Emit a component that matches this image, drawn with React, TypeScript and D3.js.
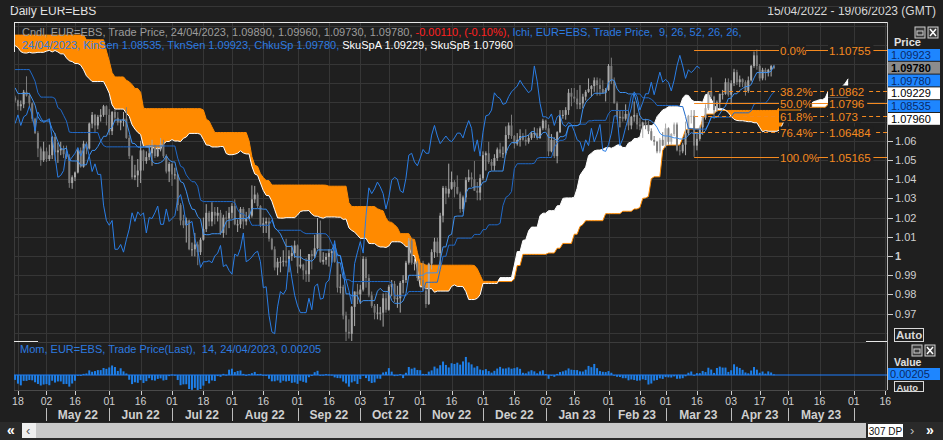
import React from "react";
import * as d3 from "d3";

type Bar = [number, number, number, number]; // open, high, low, close

// ---- daily EUR=EBS OHLC (prehistory from 27/12/2021 feeds the Ichimoku) ----
const dec21: Bar[] = [[1.1320,1.1336,1.1300,1.1327],[1.1327,1.1344,1.1296,1.1310],[1.1310,1.1369,1.1272,1.1350],[1.1350,1.1368,1.1300,1.1322],[1.1322,1.1385,1.1318,1.1370]];
const jan22: Bar[] = [[1.1370,1.1376,1.1280,1.1298],[1.1298,1.1323,1.1272,1.1287],[1.1287,1.1347,1.1284,1.1312],[1.1312,1.1331,1.1285,1.1297],[1.1297,1.1364,1.1285,1.1360],[1.1360,1.1364,1.1284,1.1326],[1.1326,1.1375,1.1314,1.1368],[1.1368,1.1446,1.1355,1.1440],[1.1440,1.1482,1.1440,1.1455],[1.1455,1.1468,1.1398,1.1413],[1.1413,1.1428,1.1394,1.1404],[1.1404,1.1408,1.1318,1.1325],[1.1325,1.1362,1.1312,1.1344],[1.1344,1.1369,1.1310,1.1311],[1.1311,1.1363,1.1300,1.1344],[1.1344,1.1356,1.1288,1.1325],[1.1325,1.1330,1.1264,1.1301],[1.1301,1.1309,1.1235,1.1241],[1.1241,1.1246,1.1137,1.1143],[1.1143,1.1160,1.1121,1.1145],[1.1145,1.1240,1.1138,1.1235]];
const feb22: Bar[] = [[1.1235,1.1279,1.1220,1.1271],[1.1271,1.1320,1.1260,1.1303],[1.1303,1.1450,1.1283,1.1441],[1.1441,1.1483,1.1410,1.1454],[1.1454,1.1454,1.1405,1.1441],[1.1441,1.1444,1.1393,1.1415],[1.1415,1.1448,1.1402,1.1424],[1.1424,1.1495,1.1375,1.1425],[1.1425,1.1436,1.1330,1.1348],[1.1348,1.1370,1.1280,1.1305],[1.1305,1.1368,1.1295,1.1360],[1.1360,1.1395,1.1350,1.1375],[1.1375,1.1384,1.1330,1.1362],[1.1362,1.1370,1.1310,1.1322],[1.1322,1.1395,1.1301,1.1310],[1.1310,1.1360,1.1290,1.1330],[1.1330,1.1345,1.1305,1.1310],[1.1310,1.1315,1.1106,1.1195],[1.1195,1.1275,1.1185,1.1270],[1.1270,1.1275,1.1130,1.1220]];
const mar22: Bar[] = [[1.1220,1.1235,1.1090,1.1125],[1.1125,1.1150,1.1055,1.1120],[1.1120,1.1125,1.1040,1.1065],[1.1065,1.1070,1.0885,1.0930],[1.0930,1.0945,1.0806,1.0855],[1.0855,1.0930,1.0850,1.0900],[1.0900,1.1090,1.0895,1.1075],[1.1075,1.1120,1.0975,1.0985],[1.0985,1.1045,1.0905,1.0915],[1.0915,1.0990,1.0905,1.0940],[1.0940,1.1010,1.0930,1.0955],[1.0955,1.1045,1.0950,1.1035],[1.1035,1.1137,1.1030,1.1090],[1.1090,1.1105,1.1025,1.1050],[1.1050,1.1070,1.0995,1.1015],[1.1015,1.1040,1.0990,1.1030],[1.1030,1.1040,1.0965,1.1005],[1.1005,1.1020,1.0960,1.0995],[1.0995,1.1035,1.0965,1.0985],[1.0985,1.0995,1.0945,1.0985],[1.0985,1.1140,1.0980,1.1090],[1.1090,1.1185,1.1075,1.1160],[1.1160,1.1170,1.1060,1.1065]];
const aprPre22: Bar[] = [[1.1065,1.1075,1.1030,1.1045],[1.1045,1.1055,1.0965,1.0975],[1.0975,1.0995,1.0900,1.0905],[1.0905,1.0935,1.0890,1.0900],[1.0900,1.0935,1.0875,1.0880],[1.0880,1.0890,1.0835,1.0875],[1.0875,1.0935,1.0860,1.0885],[1.0885,1.0900,1.0810,1.0830],[1.0830,1.0895,1.0820,1.0890],[1.0890,1.0925,1.0757,1.0825]];
const apr22: Bar[] = [[1.0825,1.0835,1.0800,1.0810],[1.0810,1.0815,1.0760,1.0780],[1.0780,1.0810,1.0757,1.0790],[1.0790,1.0865,1.0770,1.0855],[1.0855,1.0936,1.0830,1.0835],[1.0835,1.0850,1.0775,1.0795],[1.0795,1.0800,1.0700,1.0715],[1.0715,1.0720,1.0635,1.0640],[1.0640,1.0650,1.0515,1.0560],[1.0560,1.0570,1.0470,1.0500],[1.0500,1.0595,1.0490,1.0545]];
const may22: Bar[] = [[1.0545,1.0565,1.0490,1.0505],[1.0505,1.0580,1.0495,1.0525],[1.0525,1.0625,1.0505,1.0620],[1.0620,1.0640,1.0495,1.0540],[1.0540,1.0590,1.0485,1.0550],[1.0550,1.0595,1.0525,1.0560],[1.0560,1.0575,1.0510,1.0530],[1.0530,1.0575,1.0505,1.0515],[1.0515,1.0530,1.0355,1.0380],[1.0380,1.0420,1.0350,1.0410],[1.0410,1.0440,1.0390,1.0435],[1.0435,1.0560,1.0430,1.0550],[1.0550,1.0565,1.0460,1.0465],[1.0465,1.0600,1.0460,1.0585],[1.0585,1.0595,1.0530,1.0560],[1.0560,1.0695,1.0555,1.0690],[1.0690,1.0750,1.0665,1.0735],[1.0735,1.0740,1.0640,1.0680],[1.0680,1.0735,1.0660,1.0725],[1.0725,1.0765,1.0700,1.0735],[1.0735,1.0787,1.0725,1.0780],[1.0780,1.0785,1.0680,1.0735]];
const jun22: Bar[] = [[1.0735,1.0765,1.0630,1.0650],[1.0650,1.0755,1.0630,1.0750],[1.0750,1.0765,1.0700,1.0720],[1.0720,1.0750,1.0680,1.0695],[1.0695,1.0710,1.0655,1.0705],[1.0705,1.0750,1.0675,1.0715],[1.0715,1.0775,1.0610,1.0615],[1.0615,1.0630,1.0505,1.0520],[1.0520,1.0525,1.0400,1.0410],[1.0410,1.0475,1.0395,1.0420],[1.0420,1.0505,1.0359,1.0445],[1.0445,1.0600,1.0380,1.0550],[1.0550,1.0555,1.0445,1.0495],[1.0495,1.0545,1.0480,1.0515],[1.0515,1.0580,1.0500,1.0535],[1.0535,1.0605,1.0470,1.0565],[1.0565,1.0580,1.0510,1.0520],[1.0520,1.0570,1.0515,1.0555],[1.0555,1.0615,1.0545,1.0585],[1.0585,1.0605,1.0510,1.0520],[1.0520,1.0530,1.0430,1.0440],[1.0440,1.0490,1.0385,1.0480]];
const jul22: Bar[] = [[1.0480,1.0485,1.0365,1.0425],[1.0425,1.0460,1.0400,1.0425],[1.0425,1.0430,1.0235,1.0265],[1.0265,1.0275,1.0160,1.0185],[1.0185,1.0215,1.0145,1.0160],[1.0160,1.0200,1.0070,1.0185],[1.0185,1.0190,1.0030,1.0035],[1.0035,1.0070,0.9999,1.0035],[1.0035,1.0120,0.9998,1.0060],[1.0060,1.0075,0.9952,1.0020],[1.0020,1.0095,1.0005,1.0085],[1.0085,1.0200,1.0080,1.0140],[1.0140,1.0270,1.0125,1.0225],[1.0225,1.0235,1.0155,1.0180],[1.0180,1.0280,1.0155,1.0230],[1.0230,1.0255,1.0165,1.0210],[1.0210,1.0255,1.0180,1.0225],[1.0225,1.0240,1.0110,1.0120],[1.0120,1.0215,1.0095,1.0200],[1.0200,1.0235,1.0110,1.0195],[1.0195,1.0255,1.0145,1.0225]];
const aug22: Bar[] = [[1.0225,1.0275,1.0195,1.0260],[1.0260,1.0295,1.0160,1.0165],[1.0165,1.0190,1.0125,1.0165],[1.0165,1.0255,1.0145,1.0245],[1.0245,1.0255,1.0140,1.0180],[1.0180,1.0230,1.0160,1.0195],[1.0195,1.0250,1.0190,1.0210],[1.0210,1.0368,1.0200,1.0295],[1.0295,1.0365,1.0275,1.0320],[1.0320,1.0330,1.0250,1.0260],[1.0260,1.0265,1.0150,1.0160],[1.0160,1.0200,1.0120,1.0170],[1.0170,1.0200,1.0120,1.0180],[1.0180,1.0200,1.0075,1.0090],[1.0090,1.0095,1.0030,1.0035],[1.0035,1.0050,0.9925,0.9940],[0.9940,0.9990,0.9900,0.9970],[0.9970,0.9995,0.9915,0.9970],[0.9970,1.0030,0.9945,0.9975],[0.9975,1.0090,0.9945,0.9965],[0.9965,1.0030,0.9915,1.0000],[1.0000,1.0055,0.9975,1.0015],[1.0015,1.0080,0.9990,1.0055]];
const sep22: Bar[] = [[1.0055,1.0060,0.9910,0.9945],[0.9945,1.0035,0.9935,0.9955],[0.9955,0.9960,0.9877,0.9925],[0.9925,0.9990,0.9865,0.9905],[0.9905,1.0010,0.9865,1.0010],[1.0010,1.0030,0.9930,1.0000],[1.0000,1.0110,0.9990,1.0040],[1.0040,1.0198,1.0035,1.0120],[1.0120,1.0185,0.9965,0.9970],[0.9970,1.0020,0.9955,0.9980],[0.9980,1.0015,0.9955,0.9995],[0.9995,1.0035,0.9945,1.0015],[1.0015,1.0030,0.9965,1.0025],[1.0025,1.0050,0.9965,0.9970],[0.9970,0.9975,0.9810,0.9835],[0.9835,0.9905,0.9805,0.9840],[0.9840,0.9850,0.9670,0.9690],[0.9690,0.9710,0.9555,0.9605],[0.9605,0.9670,0.9570,0.9595],[0.9595,0.9740,0.9536,0.9735],[0.9735,0.9815,0.9635,0.9815],[0.9815,0.9855,0.9750,0.9800]];
const oct22: Bar[] = [[0.9800,0.9850,0.9750,0.9825],[0.9825,0.9999,0.9815,0.9985],[0.9985,0.9995,0.9835,0.9885],[0.9885,0.9905,0.9785,0.9795],[0.9795,0.9815,0.9730,0.9740],[0.9740,0.9750,0.9670,0.9705],[0.9705,0.9750,0.9670,0.9705],[0.9705,0.9735,0.9665,0.9705],[0.9705,0.9805,0.9632,0.9780],[0.9780,0.9810,0.9705,0.9720],[0.9720,0.9850,0.9715,0.9840],[0.9840,0.9875,0.9790,0.9855],[0.9855,0.9870,0.9760,0.9775],[0.9775,0.9845,0.9730,0.9780],[0.9780,0.9870,0.9705,0.9860],[0.9860,0.9900,0.9805,0.9875],[0.9875,0.9975,0.9860,0.9965],[0.9965,1.0094,0.9955,1.0080],[1.0080,1.0090,0.9955,0.9965],[0.9965,0.9985,0.9925,0.9965],[0.9965,0.9975,0.9870,0.9885]];
const nov22: Bar[] = [[0.9885,0.9955,0.9850,0.9875],[0.9875,0.9975,0.9815,0.9820],[0.9820,0.9840,0.9730,0.9750],[0.9750,0.9965,0.9745,0.9960],[0.9960,1.0035,0.9930,1.0020],[1.0020,1.0095,0.9990,1.0075],[1.0075,1.0095,0.9995,1.0015],[1.0015,1.0225,0.9935,1.0210],[1.0210,1.0365,1.0175,1.0355],[1.0355,1.0365,1.0270,1.0325],[1.0325,1.0481,1.0305,1.0350],[1.0350,1.0440,1.0345,1.0385],[1.0385,1.0395,1.0305,1.0360],[1.0360,1.0420,1.0320,1.0325],[1.0325,1.0335,1.0225,1.0245],[1.0245,1.0315,1.0230,1.0305],[1.0305,1.0410,1.0280,1.0395],[1.0395,1.0450,1.0385,1.0410],[1.0410,1.0435,1.0360,1.0400],[1.0400,1.0495,1.0340,1.0340],[1.0340,1.0385,1.0290,1.0330],[1.0330,1.0425,1.0290,1.0405]];
const dec22: Bar[] = [[1.0405,1.0545,1.0395,1.0525],[1.0525,1.0545,1.0445,1.0535],[1.0535,1.0595,1.0480,1.0490],[1.0490,1.0505,1.0445,1.0470],[1.0470,1.0530,1.0445,1.0510],[1.0510,1.0565,1.0495,1.0555],[1.0555,1.0590,1.0515,1.0535],[1.0535,1.0570,1.0510,1.0535],[1.0535,1.0675,1.0525,1.0630],[1.0630,1.0695,1.0610,1.0680],[1.0680,1.0736,1.0610,1.0625],[1.0625,1.0630,1.0560,1.0585],[1.0585,1.0640,1.0575,1.0605],[1.0605,1.0660,1.0570,1.0625],[1.0625,1.0640,1.0600,1.0605],[1.0605,1.0660,1.0575,1.0595],[1.0595,1.0630,1.0585,1.0615],[1.0615,1.0645,1.0605,1.0640],[1.0640,1.0670,1.0615,1.0640],[1.0640,1.0665,1.0605,1.0615],[1.0615,1.0675,1.0610,1.0665],[1.0665,1.0715,1.0655,1.0705]];
const jan23: Bar[] = [[1.0705,1.0710,1.0655,1.0665],[1.0665,1.0685,1.0520,1.0545],[1.0545,1.0635,1.0540,1.0605],[1.0605,1.0620,1.0510,1.0520],[1.0520,1.0650,1.0483,1.0645],[1.0645,1.0760,1.0640,1.0730],[1.0730,1.0760,1.0715,1.0735],[1.0735,1.0775,1.0710,1.0760],[1.0760,1.0870,1.0735,1.0850],[1.0850,1.0875,1.0780,1.0830],[1.0830,1.0875,1.0800,1.0820],[1.0820,1.0865,1.0765,1.0790],[1.0790,1.0890,1.0765,1.0795],[1.0795,1.0845,1.0770,1.0830],[1.0830,1.0865,1.0810,1.0855],[1.0855,1.0925,1.0850,1.0870],[1.0870,1.0890,1.0830,1.0885],[1.0885,1.0930,1.0855,1.0915],[1.0915,1.0930,1.0835,1.0890],[1.0890,1.0925,1.0835,1.0870],[1.0870,1.0915,1.0845,1.0850],[1.0850,1.0875,1.0805,1.0865]];
const feb23: Bar[] = [[1.0865,1.1000,1.0860,1.0990],[1.0990,1.1033,1.0895,1.0910],[1.0910,1.0930,1.0795,1.0795],[1.0795,1.0805,1.0710,1.0725],[1.0725,1.0755,1.0670,1.0725],[1.0725,1.0760,1.0700,1.0715],[1.0715,1.0790,1.0705,1.0740],[1.0740,1.0760,1.0655,1.0680],[1.0680,1.0730,1.0660,1.0725],[1.0725,1.0805,1.0700,1.0735],[1.0735,1.0745,1.0660,1.0685],[1.0685,1.0720,1.0655,1.0675],[1.0675,1.0700,1.0615,1.0695],[1.0695,1.0715,1.0660,1.0685],[1.0685,1.0705,1.0635,1.0650],[1.0650,1.0665,1.0600,1.0605],[1.0605,1.0625,1.0575,1.0595],[1.0595,1.0600,1.0535,1.0545],[1.0545,1.0615,1.0535,1.0605],[1.0605,1.0645,1.0575,1.0575]];
const mar23: Bar[] = [[1.0575,1.0690,1.0565,1.0665],[1.0665,1.0670,1.0580,1.0595],[1.0595,1.0640,1.0580,1.0635],[1.0635,1.0695,1.0625,1.0685],[1.0685,1.0695,1.0545,1.0550],[1.0550,1.0575,1.0524,1.0545],[1.0545,1.0590,1.0535,1.0580],[1.0580,1.0700,1.0525,1.0640],[1.0640,1.0735,1.0630,1.0730],[1.0730,1.0760,1.0690,1.0730],[1.0730,1.0760,1.05165,1.0575],[1.0575,1.0635,1.0550,1.0610],[1.0610,1.0680,1.0600,1.0670],[1.0670,1.0725,1.06315,1.0720],[1.0720,1.0790,1.0710,1.0770],[1.0770,1.0855,1.0760,1.0855],[1.0855,1.0930,1.0820,1.0830],[1.0830,1.0835,1.0715,1.0760],[1.0760,1.0810,1.0750,1.0800],[1.0800,1.0845,1.0770,1.0845],[1.0845,1.0865,1.0815,1.0845],[1.0845,1.0925,1.0840,1.0905],[1.0905,1.0925,1.0830,1.0840]];
const apr23: Bar[] = [[1.0840,1.0915,1.0790,1.0900],[1.0900,1.0975,1.0885,1.09575],[1.09575,1.0970,1.0890,1.0905],[1.0905,1.0940,1.0880,1.0920],[1.0920,1.0925,1.0880,1.0905],[1.0905,1.0915,1.0835,1.0860],[1.0860,1.0935,1.0850,1.0915],[1.0915,1.0995,1.09091,1.0990],[1.0990,1.1065,1.0980,1.1045],[1.1045,1.10755,1.0970,1.0990],[1.0990,1.1000,1.0910,1.0925],[1.0925,1.0980,1.0915,1.0970],[1.0970,1.0980,1.0915,1.0955],[1.0955,1.0975,1.0935,1.0970],[1.0970,1.0995,1.0935,1.0989],[1.0989,1.0996,1.0973,1.0978]];

const FIRST_DATE = new Date(2021, 11, 27);
const PRE = 79; // bars before 15/04/2022
const SLOTS = 307; // "307 DP"
const ICHI = { tenkan: 9, kijun: 26, senkouB: 52, shift: 26 };
const MOM_N = 14;

const fibPct = ["0.0%", "38.2%", "50.0%", "61.8%", "76.4%", "100.0%"];
const fibRatio = [0, 0.382, 0.5, 0.618, 0.764, 1];
const fibDashed = [false, true, false, true, true, false];
const priceLabels = [1.06, 1.05, 1.04, 1.03, 1.02, 1.01, 1.0, 0.99, 0.98, 0.97];
const priceGrid = [1.13, 1.12, 1.11, 1.1, 1.09, 1.08, 1.07, 1.06, 1.05, 1.04, 1.03, 1.02, 1.01, 1.0, 0.99, 0.98, 0.97, 0.96];

const FONT = "'Liberation Sans', Arial, sans-serif";
const BG = "#1f1f1f";
const GRID = "#363636";
const BLUE_TXT = "#2d7be0";
const ORANGE = "#ff8a00";
const FIB = "#f58a1f";

export default function App() {
  const bars = [dec21, jan22, feb22, mar22, aprPre22, apr22, may22, jun22, jul22, aug22, sep22, oct22, nov22, dec22, jan23, feb23, mar23, apr23].flat();
  const N = bars.length;
  const H = bars.map((b) => b[1]);
  const L = bars.map((b) => b[2]);
  const C = bars.map((b) => b[3]);
  const mid = (n: number, i: number) =>
    i < n - 1 ? NaN : ((d3.max(H.slice(i - n + 1, i + 1)) as number) + (d3.min(L.slice(i - n + 1, i + 1)) as number)) / 2;
  const tenkan = bars.map((_, i) => mid(ICHI.tenkan, i));
  const kijun = bars.map((_, i) => mid(ICHI.kijun, i));
  const spanA = bars.map((_, i) => (tenkan[i] + kijun[i]) / 2);
  const spanB = bars.map((_, i) => mid(ICHI.senkouB, i));

  // weekday calendar
  const dates: Date[] = [];
  const dt = new Date(FIRST_DATE);
  while (dates.length < PRE + SLOTS) {
    const wd = dt.getDay();
    if (wd !== 0 && wd !== 6) dates.push(new Date(dt));
    dt.setDate(dt.getDate() + 1);
  }
  const disp = dates.slice(PRE);

  const x = d3.scaleLinear().domain([0, SLOTS - 1]).range([15.1, 888.1]);
  const y = d3.scaleLinear().domain([0.97, 1.06]).range([313.6, 140.8]);
  const ym = d3.scaleLinear().domain([-0.06, 0.06]).range([391.8, 358.2]);

  const nShown = N - PRE; // 267
  const last = N - 1;

  const linePath = (vals: [number, number][]) => d3.line()(vals.map(([d, v]) => [x(d), y(v)] as [number, number])) || "";
  const tenkanPath = linePath(d3.range(nShown).map((d) => [d, tenkan[d + PRE]]));
  const kijunPath = linePath(d3.range(nShown).map((d) => [d, kijun[d + PRE]]));
  const chikouPath = linePath(d3.range(nShown - ICHI.shift).map((d) => [d, C[d + PRE + ICHI.shift]]));

  type CP = { p: number; a: number; b: number };
  const cloud: CP[] = d3.range(nShown + ICHI.shift).map((p) => {
    const r = p + PRE - ICHI.shift;
    return { p, a: spanA[r], b: spanB[r] };
  });
  const orangeArea = d3.area<CP>().x((d) => x(d.p)).y0((d) => y(d.a)).y1((d) => y(Math.max(d.a, d.b)))(cloud) || "";
  const whiteArea = d3.area<CP>().x((d) => x(d.p)).y0((d) => y(d.b)).y1((d) => y(Math.max(d.a, d.b)))(cloud) || "";
  const aLine = d3.line<CP>().x((d) => x(d.p)).y((d) => y(d.a))(cloud) || "";
  const bLine = d3.line<CP>().x((d) => x(d.p)).y((d) => y(d.b))(cloud) || "";

  // fib retracement on the last 30 bars
  const fibFrom = N - 30;
  const hiFib = d3.max(H.slice(fibFrom)) as number;
  const loFib = d3.min(L.slice(fibFrom)) as number;
  const loIdx = fibFrom + L.slice(fibFrom).indexOf(loFib) - PRE;
  const fibVals = fibRatio.map((r) => hiFib - r * (hiFib - loFib));
  const fmtFib = (v: number) => String(+v.toFixed(5));

  // ticks
  const ticks: { d: number; label: string; month: boolean }[] = [];
  disp.forEach((dd, d) => {
    const prev = d > 0 ? disp[d - 1] : dates[PRE - 1];
    if (dd.getMonth() !== prev.getMonth()) ticks.push({ d, label: d3.timeFormat("%d")(dd), month: true });
    else if (dd.getDate() >= 16 && prev.getDate() < 16) ticks.push({ d, label: d3.timeFormat("%d")(dd), month: false });
  });
  const monthTicks = ticks.filter((t) => t.month);

  const f5 = (v: number) => v.toFixed(5);
  const lb = bars[last];
  const chg = C[last] - C[last - 1];
  const mom = d3.range(nShown).map((d) => C[d + PRE] - C[d + PRE - MOM_N]);

  const boxes = [
    { v: tenkan[last], bg: "#1e86ff", fg: "#0a2a66", bold: false },
    { v: C[last], bg: "#8c8c8c", fg: "#000", bold: true },
    { v: C[last], bg: "#1e86ff", fg: "#0a2a66", bold: false },
    { v: spanA[last], bg: "#ffffff", fg: "#000", bold: false },
    { v: kijun[last], bg: "#1e86ff", fg: "#0a2a66", bold: false },
    { v: spanB[last], bg: "#ffffff", fg: "#000", bold: false },
  ];

  const icons = (x0: number, y0: number) => (
    <g>
      <rect x={x0} y={y0} width={10} height={11} fill="#3a3a3a" stroke="#cfcfcf" />
      <rect x={x0 + 2} y={y0 + 4} width={6} height={4} fill="none" stroke="#cfcfcf" />
      <rect x={x0 + 13} y={y0} width={10} height={11} fill="#3a3a3a" stroke="#cfcfcf" />
      <path d={`M${x0 + 15},${y0 + 2}L${x0 + 21},${y0 + 9}M${x0 + 21},${y0 + 2}L${x0 + 15},${y0 + 9}`} stroke="#fff" strokeWidth={1.5} />
    </g>
  );

  return (
    <svg width={943} height={440} style={{ position: "absolute", left: 0, top: 0, background: BG }} fontFamily={FONT}>
      <defs>
        <clipPath id="mainClip"><rect x={14} y={22} width={873} height={319} /></clipPath>
        <clipPath id="momClip"><rect x={14} y={343} width={873} height={47} /></clipPath>
      </defs>
      <rect x={0} y={0} width={943} height={440} fill={BG} />
      {/* title */}
      <text x={10} y={15} fontSize={12} fill="#e2e2e2">Daily EUR=EBS</text>
      <text x={936} y={15} fontSize={12} fill="#d8d8d8" textAnchor="end">15/04/2022 - 19/06/2023 (GMT)</text>

      {/* grid */}
      <g stroke={GRID} strokeWidth={1}>
        {ticks.map((t) => (
          <line key={"gv" + t.d} x1={Math.round(x(t.d)) + 0.5} x2={Math.round(x(t.d)) + 0.5} y1={22} y2={390} />
        ))}
        {priceGrid.map((v) => (
          <line key={"gh" + v} x1={14} x2={887} y1={Math.round(y(v)) + 0.5} y2={Math.round(y(v)) + 0.5} />
        ))}
      </g>

      <g clipPath="url(#mainClip)">
        <path d={orangeArea} fill={ORANGE} />
        <path d={whiteArea} fill="#ffffff" />
        <path d={bLine} fill="none" stroke={ORANGE} strokeWidth={1} />
        <path d={aLine} fill="none" stroke="#ffffff" strokeWidth={1} />
        {/* candles */}
        {d3.range(nShown).map((d) => {
          const [o, h, l, c] = bars[d + PRE];
          const up = c >= o;
          const col = up ? "#a9a9a9" : "#7c7c7c";
          const cx = x(d);
          const top = y(Math.max(o, c));
          const bh = Math.max(1, y(Math.min(o, c)) - top);
          return (
            <g key={"c" + d}>
              <line x1={cx} x2={cx} y1={y(h)} y2={y(l)} stroke={col} strokeWidth={1} />
              <rect x={cx - 1} y={top} width={2} height={bh} fill={col} />
            </g>
          );
        })}
        <path d={kijunPath} fill="none" stroke="#1f69c9" strokeWidth={1} />
        <path d={tenkanPath} fill="none" stroke="#3c90f0" strokeWidth={1} />
        <path d={chikouPath} fill="none" stroke="#2a7ee6" strokeWidth={1} />
        {/* fibonacci */}
        {fibVals.map((v, i) => {
          const yy = Math.round(y(v)) + 0.5;
          return (
            <g key={"fib" + i}>
              <line x1={x(loIdx)} x2={887} y1={yy} y2={yy} stroke={FIB} strokeWidth={1} strokeDasharray={fibDashed[i] ? "4,3" : undefined} />
              <rect x={779} y={yy - 6} width={fibPct[i].length * 6.2 + 2} height={12} fill={BG} />
              <rect x={828} y={yy - 6} width={fmtFib(v).length * 6.2 + 2} height={12} fill={BG} />
              <text x={780} y={yy + 4} fontSize={11.5} fill={FIB}>{fibPct[i]}</text>
              <text x={829} y={yy + 4} fontSize={11.5} fill={FIB}>{fmtFib(v)}</text>
            </g>
          );
        })}
      </g>

      {/* legend */}
      <text x={22} y={36} fontSize={11} style={{ whiteSpace: "pre" }}>
        <tspan fill="#9c9c9c">{`Cndl, EUR=EBS, Trade Price, 24/04/2023, ${f5(lb[0])}, ${f5(lb[1])}, ${f5(lb[2])}, ${f5(lb[3])}, `}</tspan>
        <tspan fill="#ff2020">{`${f5(chg)}, (${((chg / C[last - 1]) * 100).toFixed(2)}%), `}</tspan>
        <tspan fill={BLUE_TXT}>{`Ichi, EUR=EBS, Trade Price,  ${ICHI.tenkan}, ${ICHI.kijun}, ${ICHI.senkouB}, ${ICHI.shift}, ${ICHI.shift},`}</tspan>
      </text>
      <text x={22} y={49} fontSize={11} style={{ whiteSpace: "pre" }}>
        <tspan fill={BLUE_TXT}>{`24/04/2023, KinSen ${f5(kijun[last])}, TknSen ${f5(tenkan[last])}, ChkuSp ${f5(C[last])}, `}</tspan>
        <tspan fill="#ffffff">{`SkuSpA ${f5(spanA[last])}, SkuSpB ${f5(spanB[last])}`}</tspan>
      </text>

      {/* main frame */}
      <line x1={14} x2={887} y1={22.5} y2={22.5} stroke="#e8e8e8" />
      <line x1={14.5} x2={14.5} y1={22} y2={52} stroke="#e8e8e8" />
      <line x1={14.5} x2={14.5} y1={52} y2={390} stroke="#3a3a3a" />
      <line x1={887.5} x2={887.5} y1={22} y2={390} stroke="#bdbdbd" />
      <line x1={14} x2={38} y1={341.5} y2={341.5} stroke="#e8e8e8" />
      <line x1={866} x2={887} y1={341.5} y2={341.5} stroke="#e8e8e8" />
      <line x1={38} x2={866} y1={342.5} y2={342.5} stroke="#3c3c3c" />

      {/* right price axis */}
      {icons(915, 27)}
      <text x={894} y={46} fontSize={11} fontWeight="bold" fill="#e0e0e0">Price</text>
      {priceLabels.map((v) => (
        <g key={"pl" + v}>
          <line x1={888} x2={893} y1={Math.round(y(v)) + 0.5} y2={Math.round(y(v)) + 0.5} stroke="#cfcfcf" />
          <text x={895} y={y(v) + 4} fontSize={11} fill="#cfcfcf" fontWeight={v === 1 ? "bold" : "normal"}>
            {d3.format("~g")(v)}
          </text>
        </g>
      ))}
      {boxes.map((b, i) => (
        <g key={"bx" + i}>
          <rect x={888} y={49 + i * 12.8} width={52} height={11.8} fill={b.bg} />
          <text x={891} y={49 + i * 12.8 + 10} fontSize={11} fill={b.fg} fontWeight={b.bold ? "bold" : "normal"}>{f5(b.v)}</text>
        </g>
      ))}
      <rect x={894.5} y={328.5} width={29} height={13} fill="none" stroke="#d8d8d8" />
      <text x={896} y={339} fontSize={11.5} fontWeight="bold" fill="#d8d8d8">Auto</text>

      {/* momentum panel */}
      <text x={20} y={353} fontSize={11} fill={BLUE_TXT} style={{ whiteSpace: "pre" }}>
        {`Mom, EUR=EBS, Trade Price(Last),  ${MOM_N}, 24/04/2023, ${f5(mom[mom.length - 1])}`}
      </text>
      <g clipPath="url(#momClip)">
        <line x1={14} x2={887} y1={ym(0)} y2={ym(0)} stroke="#1e7fff" strokeWidth={1} />
        {mom.map((m, d) => (
          <rect key={"m" + d} x={x(d) - 1} y={Math.min(ym(0), ym(m))} width={2} height={Math.max(0.8, Math.abs(ym(m) - ym(0)))} fill="#1e7fe8" />
        ))}
      </g>
      {icons(912, 345)}
      <text x={894} y={366} fontSize={10.5} fontWeight="bold" fill="#e0e0e0">Value</text>
      <rect x={888} y={368} width={52} height={12} fill="#1e86ff" />
      <text x={890} y={378} fontSize={11} fill="#0a2a66">{f5(mom[mom.length - 1])}</text>
      <rect x={894.5} y={381.5} width={29} height={10} fill="none" stroke="#d8d8d8" />
      <text x={896.5} y={390.5} fontSize={9.5} fontWeight="bold" fill="#d8d8d8">Auto</text>

      {/* date axis */}
      <line x1={14} x2={887} y1={390.5} y2={390.5} stroke="#4a4a4a" />
      {ticks.map((t) => (
        <g key={"t" + t.d}>
          <line x1={Math.round(x(t.d)) + 0.5} x2={Math.round(x(t.d)) + 0.5} y1={391} y2={395} stroke="#cfcfcf" />
          <text x={x(t.d)} y={405} fontSize={10.5} fill="#cfcfcf" textAnchor="middle">{t.label}</text>
        </g>
      ))}
      {monthTicks.map((t, i) => {
        const nx = monthTicks[i + 1];
        return (
          <g key={"mt" + t.d}>
            <line x1={Math.round(x(t.d)) + 0.5} x2={Math.round(x(t.d)) + 0.5} y1={408} y2={421} stroke="#bdbdbd" />
            {nx ? (
              <text x={(x(t.d) + x(nx.d)) / 2} y={419} fontSize={12} fontWeight="bold" fill="#cfcfcf" textAnchor="middle">
                {d3.timeFormat("%b %y")(disp[t.d])}
              </text>
            ) : null}
          </g>
        );
      })}

      {/* scroll bar */}
      <rect x={0} y={422} width={943} height={18} fill="#2a2a2a" />
      <rect x={36} y={423} width={830} height={15} fill="#c9c9c9" />
      <text x={7} y={435} fontSize={14} fontWeight="bold" fill="#ffffff">«</text>
      <rect x={22} y={423} width={14} height={15} fill="#efefef" />
      <text x={26} y={435} fontSize={13} fill="#555">‹</text>
      <rect x={868} y={424} width={35} height={13} fill="#ffffff" />
      <text x={885.5} y={434.5} fontSize={10} fill="#111" textAnchor="middle">307 DP</text>
      <text x={910} y={435} fontSize={13} fill="#bdbdbd">›</text>
      <text x={926} y={435} fontSize={14} fontWeight="bold" fill="#ffffff">»</text>
    </svg>
  );
}
